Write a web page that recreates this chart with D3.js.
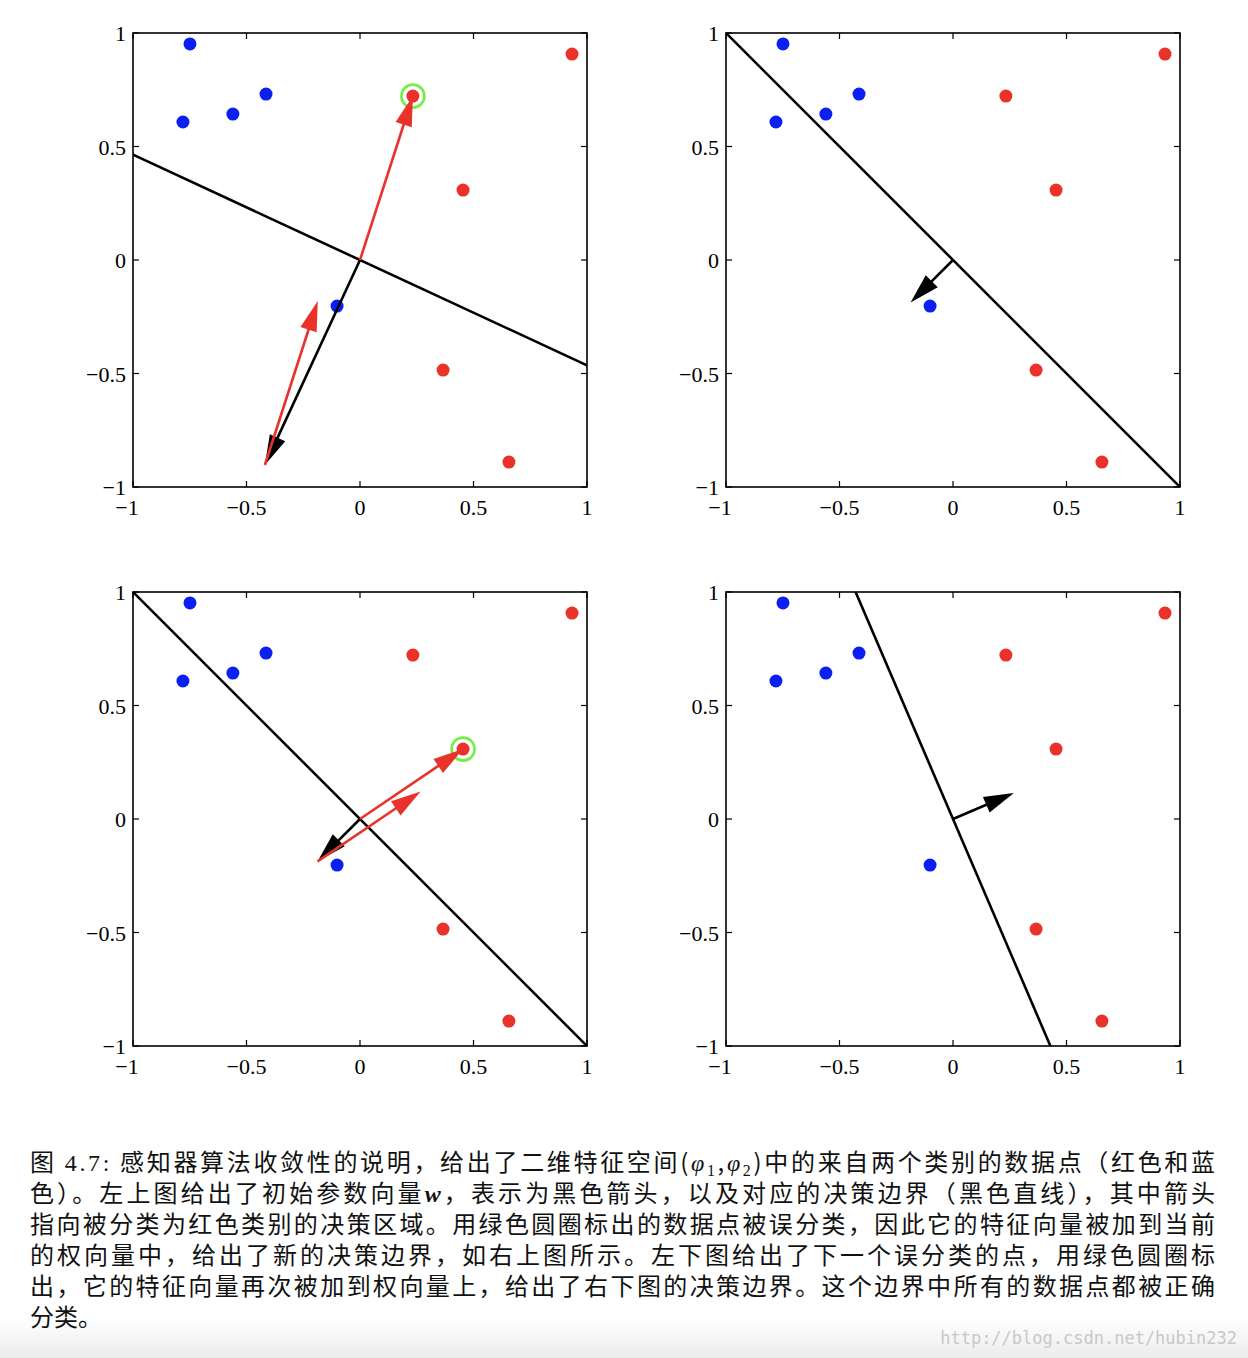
<!DOCTYPE html>
<html><head><meta charset="utf-8">
<script src="https://cdn.jsdelivr.net/npm/d3@7"></script>
<style>body{margin:0;background:#fff;} svg{display:block;}</style>
</head><body>
<script>
// ---- data ----
const blueX = [-0.749, -0.780, -0.560, -0.414, -0.101];
const blueY = [0.952, 0.608, 0.643, 0.731, -0.203];
const redX = [0.934, 0.233, 0.454, 0.366, 0.656];
const redY = [0.907, 0.722, 0.308, -0.485, -0.890];
// weight vector shown in each panel (top-left, top-right, bottom-left, bottom-right)
const weightX = [-0.419, -0.187, -0.187, 0.268];
const weightY = [-0.903, -0.187, -0.187, 0.115];
// index of misclassified red point highlighted in each panel (-1 = none)
const missIdx = [1, -1, 2, -1];
const tickVals = [-1, -0.5, 0, 0.5, 1];
const tickLabels = ["\u22121", "\u22120.5", "0", "0.5", "1"];
const captionLines = [
  "图 4.7: 感知器算法收敛性的说明，给出了二维特征空间(|φ1|,|φ2|)中的来自两个类别的数据点（红色和蓝",
  "色）。左上图给出了初始参数向量|w|，表示为黑色箭头，以及对应的决策边界（黑色直线），其中箭头",
  "指向被分类为红色类别的决策区域。用绿色圆圈标出的数据点被误分类，因此它的特征向量被加到当前",
  "的权向量中，给出了新的决策边界，如右上图所示。左下图给出了下一个误分类的点，用绿色圆圈标",
  "出，它的特征向量再次被加到权向量上，给出了右下图的决策边界。这个边界中所有的数据点都被正确",
  "分类。"
];

const W = 1248, H = 1358;
const svg = d3.select("body").append("svg").attr("width", W).attr("height", H);
const defs = svg.append("defs");
const grad = defs.append("linearGradient").attr("id","bg").attr("x1",0).attr("y1",0).attr("x2",0).attr("y2",1);
grad.append("stop").attr("offset","0").attr("stop-color","#ffffff");
grad.append("stop").attr("offset","1").attr("stop-color","#ececec");
svg.append("rect").attr("width",W).attr("height",H).attr("fill","#fff");
svg.append("rect").attr("x",0).attr("y",1318).attr("width",W).attr("height",40).attr("fill","url(#bg)");

const RED = "#e8322a", BLUE = "#0a1ff0", GREEN = "#74ee46";
const size = 454;
const origins = [[133,33],[726,33],[133,592],[726,592]];
const SERIF = "'Liberation Serif', 'DejaVu Serif', serif";

function arrow(g, x, y, x0, y0, x1, y1, color) {
  const px0 = x(x0), py0 = y(y0), px1 = x(x1), py1 = y(y1);
  const dx = px1 - px0, dy = py1 - py0, L = Math.hypot(dx, dy);
  const ux = dx / L, uy = dy / L;
  const hl = 30, hw = 8.5;
  const bx = px1 - ux * hl, by = py1 - uy * hl;
  g.append("line").attr("x1", px0).attr("y1", py0).attr("x2", bx + ux*2).attr("y2", by + uy*2)
    .attr("stroke", color).attr("stroke-width", 2.6);
  g.append("path").attr("d", `M${px1},${py1}L${bx - uy*hw},${by + ux*hw}L${bx + uy*hw},${by - ux*hw}Z`)
    .attr("fill", color);
}

origins.forEach(([ox, oy], p) => {
  const x = d3.scaleLinear().domain([-1, 1]).range([ox, ox + size]);
  const y = d3.scaleLinear().domain([-1, 1]).range([oy + size, oy]);
  const g = svg.append("g");
  const clipId = "clip" + p;
  defs.append("clipPath").attr("id", clipId).append("rect")
    .attr("x", ox).attr("y", oy).attr("width", size).attr("height", size);

  g.append("rect").attr("x", ox).attr("y", oy).attr("width", size).attr("height", size)
    .attr("fill", "none").attr("stroke", "#000").attr("stroke-width", 1.6);
  const tk = 6;
  tickVals.forEach(v => {
    g.append("line").attr("x1", x(v)).attr("x2", x(v)).attr("y1", oy + size).attr("y2", oy + size - tk).attr("stroke","#000").attr("stroke-width",1.2);
    g.append("line").attr("x1", x(v)).attr("x2", x(v)).attr("y1", oy).attr("y2", oy + tk).attr("stroke","#000").attr("stroke-width",1.2);
    g.append("line").attr("y1", y(v)).attr("y2", y(v)).attr("x1", ox).attr("x2", ox + tk).attr("stroke","#000").attr("stroke-width",1.2);
    g.append("line").attr("y1", y(v)).attr("y2", y(v)).attr("x1", ox + size).attr("x2", ox + size - tk).attr("stroke","#000").attr("stroke-width",1.2);
  });
  tickVals.forEach((v, i) => {
    g.append("text").attr("x", x(v) - (v === -1 ? 6 : 0)).attr("y", oy + size + 28)
      .attr("text-anchor", "middle").attr("font-family", SERIF).attr("font-size", 22)
      .text(tickLabels[i]);
    g.append("text").attr("x", ox - 7).attr("y", y(v) + 8)
      .attr("text-anchor", "end").attr("font-family", SERIF).attr("font-size", 22)
      .text(tickLabels[i]);
  });

  const wx = weightX[p], wy = weightY[p];
  const wn = Math.hypot(wx, wy);
  // decision boundary: perpendicular to w through origin
  const cg = g.append("g").attr("clip-path", `url(#${clipId})`);
  const t = 3 / wn;
  cg.append("line").attr("x1", x(-wy * t)).attr("y1", y(wx * t)).attr("x2", x(wy * t)).attr("y2", y(-wx * t))
    .attr("stroke", "#000").attr("stroke-width", 2.6);

  blueX.forEach((bx, i) => g.append("circle").attr("cx", x(bx)).attr("cy", y(blueY[i])).attr("r", 6.5).attr("fill", BLUE));
  redX.forEach((rx, i) => g.append("circle").attr("cx", x(rx)).attr("cy", y(redY[i])).attr("r", 6.5).attr("fill", RED));

  arrow(g, x, y, 0, 0, wx, wy, "#000");

  const mi = missIdx[p];
  if (mi >= 0) {
    const mx = redX[mi], my = redY[mi];
    g.append("circle").attr("cx", x(mx)).attr("cy", y(my)).attr("r", 11.5)
      .attr("fill", "none").attr("stroke", GREEN).attr("stroke-width", 2.6);
    arrow(g, x, y, 0, 0, mx, my, RED);
    arrow(g, x, y, wx, wy, wx + mx, wy + my, RED);
  }
});

// caption (justified with letter-spacing)
const cap = svg.append("g").attr("font-size", 24).attr("fill", "#111")
  .attr("font-family", "'Noto Sans CJK SC', sans-serif");
captionLines.forEach((line, i) => {
  const tEl = cap.append("text").attr("x", 30).attr("y", 1171 + i * 31);
  let pendingDy = 0;
  const add = (txt) => {
    const ts = tEl.append("tspan").text(txt);
    if (pendingDy) { ts.attr("dy", pendingDy); pendingDy = 0; }
    return ts;
  };
  const parts = line.split("|");
  parts.forEach((part, k) => {
    if (k % 2 === 1) {
      if (part === "w") {
        add("w").attr("font-family", SERIF).attr("font-style", "italic").attr("font-weight", "bold");
      } else {
        add(part[0]).attr("font-family", SERIF).attr("font-style", "italic");
        add(part.slice(1)).attr("font-family", SERIF).attr("font-size", 16).attr("dy", 5);
        pendingDy = -5;
      }
    } else if (part.startsWith("图 4.7:")) {
      add("图 ");
      add("4.7:").attr("font-family", SERIF);
      add(part.slice(6));
    } else {
      add(part);
    }
  });
  if (i < captionLines.length - 1) {
    const natural = tEl.node().getComputedTextLength();
    const n = tEl.text().length;
    const ls = (1185 - natural) / (n - 1);
    tEl.attr("letter-spacing", ls.toFixed(3));
  }
});

svg.append("text").attr("x", 1237).attr("y", 1344).attr("text-anchor", "end")
  .attr("font-family", "'DejaVu Sans Mono', monospace").attr("font-size", 17).attr("fill", "#c8c8c8")
  .text("http://blog.csdn.net/hubin232");
</script>
</body></html>
